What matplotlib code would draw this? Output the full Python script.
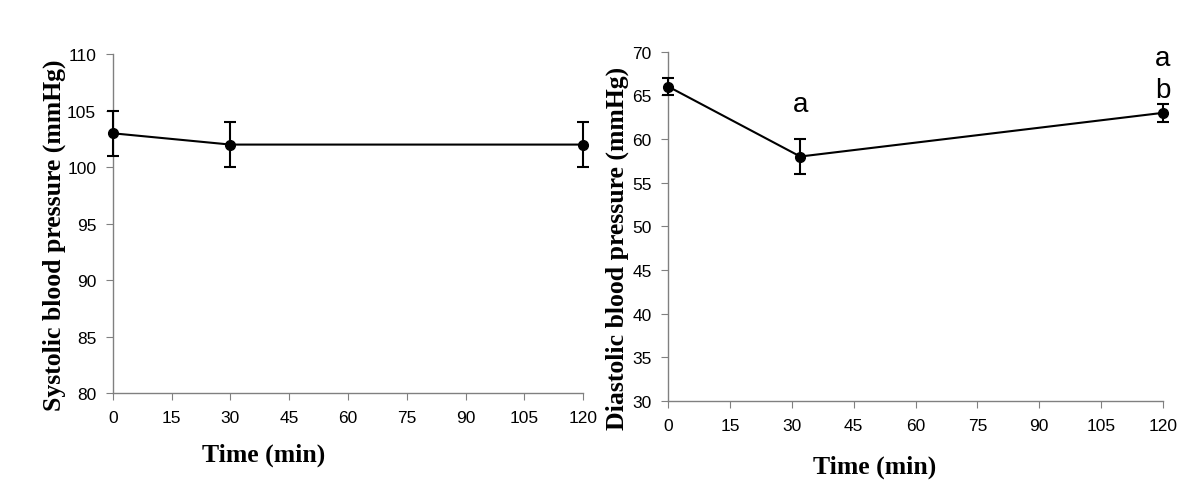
import matplotlib
matplotlib.use('Agg')
from matplotlib import pyplot as plt

# Systolic panel
sys_time = [0, 30, 120]
sys_mean = [103, 102, 102]
sys_err = [2, 2, 2]

# Diastolic panel
dia_time = [0, 32, 120]
dia_mean = [66, 58, 63]
dia_err = [1, 2, 1]

# significance letters: (x, y, text)
dia_letters = [(32, 64, 'a'), (120, 69.3, 'a'), (120, 65.6, 'b')]

x_ticks = list(range(0, 121, 15))

tick_font = {'family': 'Liberation Sans', 'size': 12.5}
label_font = {'family': 'Liberation Serif', 'size': 18.5, 'weight': 'bold'}


def style_axis(ax, ylim, ystep, ylabel, xlabel_pos, ylabel_pos):
    ax.set_xlim(0, 120)
    ax.set_ylim(*ylim)
    ax.set_xticks(x_ticks)
    ax.set_yticks(range(ylim[0], ylim[1] + 1, ystep))
    for lbl in ax.get_xticklabels() + ax.get_yticklabels():
        lbl.set_fontfamily(tick_font['family'])
        lbl.set_fontsize(tick_font['size'])
    ax.spines['top'].set_visible(False)
    ax.spines['right'].set_visible(False)
    for side in ['left', 'bottom']:
        ax.spines[side].set_color('#808080')
        ax.spines[side].set_linewidth(1.0)
    ax.tick_params(direction='out', length=5, color='#808080', pad=7)
    ax.set_xlabel('Time (min)', fontdict=label_font)
    ax.set_ylabel(ylabel, fontdict=label_font)
    ax.xaxis.set_label_coords(*xlabel_pos)
    ax.yaxis.set_label_coords(*ylabel_pos)
    ax.patch.set_visible(False)


fig = plt.figure(figsize=(12, 5.02), dpi=100)
ax1 = fig.add_axes([0.094, 0.215, 0.392, 0.675])
ax2 = fig.add_axes([0.557, 0.199, 0.412, 0.696])

ax1.errorbar(sys_time, sys_mean, yerr=sys_err, color='black', marker='o',
             markersize=7, linewidth=1.5, elinewidth=1.5, capsize=4,
             capthick=1.5, clip_on=False, zorder=5)
style_axis(ax1, (80, 110), 5, 'Systolic blood pressure (mmHg)',
           (0.32, -0.145), (-0.10, 0.47))

ax2.errorbar(dia_time, dia_mean, yerr=dia_err, color='black', marker='o',
             markersize=7, linewidth=1.5, elinewidth=1.5, capsize=4,
             capthick=1.5, clip_on=False, zorder=5)
for x, y, t in dia_letters:
    ax2.text(x, y, t, ha='center', va='center', fontsize=20,
             family='Liberation Sans')
style_axis(ax2, (30, 70), 5, 'Diastolic blood pressure (mmHg)',
           (0.418, -0.152), (-0.08, 0.44))

fig.savefig('out.png', dpi=100)
